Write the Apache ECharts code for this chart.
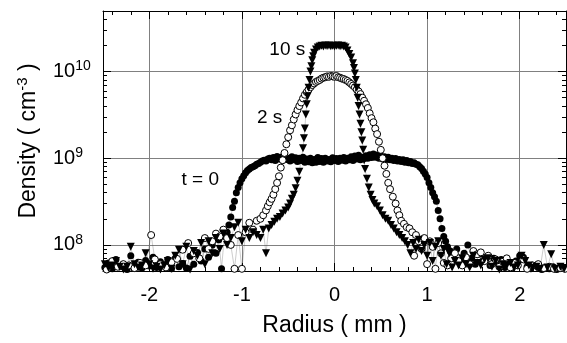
<!DOCTYPE html>
<html><head><meta charset="utf-8">
<script src="https://cdn.jsdelivr.net/npm/echarts@6/dist/echarts.min.js"></script>
<style>html,body{margin:0;padding:0;background:#fff}#c{width:567px;height:343px}</style>
</head><body><div id="c"></div>
<script>
// ---------- data (radius in mm, density in cm^-3) ----------
const t0Radius = [-2.48,-2.44,-2.40,-2.36,-2.32,-2.28,-2.24,-2.20,-2.16,-2.12,-2.08,-2.04,-2.00,-1.96,-1.92,-1.88,-1.84,-1.80,-1.76,-1.72,-1.68,-1.64,-1.60,-1.56,-1.52,-1.48,-1.44,-1.40,-1.36,-1.32,-1.28,-1.25,-1.22,-1.19,-1.16,
 -1.14,-1.12,-1.10,-1.08,-1.06,-1.04,-1.02,-1.00,-0.98,-0.96,-0.94,-0.92,-0.90,-0.88,-0.86,-0.84,-0.82,-0.80,-0.78,-0.76,-0.74,-0.72,-0.70,
 -0.68,-0.66,-0.64,-0.62,-0.60,-0.58,-0.56,-0.54,-0.52,-0.50,-0.48,-0.46,-0.44,-0.42,-0.40,-0.38,-0.36,-0.34,-0.32,-0.30,-0.28,-0.26,-0.24,-0.22,-0.20,-0.18,-0.16,-0.14,-0.12,-0.10,-0.08,-0.06,-0.04,-0.02,
 0.00,0.02,0.04,0.06,0.08,0.10,0.12,0.14,0.16,0.18,0.20,0.22,0.24,0.26,0.28,0.30,0.32,0.34,0.36,0.38,0.40,0.42,0.44,0.46,0.48,0.50,0.52,0.54,0.56,0.58,0.60,0.62,0.64,0.66,0.68,0.70,0.72,0.74,0.76,0.78,0.80,0.82,0.84,0.86,0.88,
 0.90,0.92,0.94,0.96,0.98,1.00,1.02,1.04,1.06,1.08,1.10,1.12,1.14,1.16,1.18,1.20,1.22,1.25,
 1.28,1.32,1.36,1.40,1.44,1.48,1.52,1.56,1.60,1.64,1.68,1.72,1.76,1.80,1.84,1.88,1.92,1.96,2.00,2.04,2.08,2.12,2.16,2.20,2.24,2.28,2.32,2.36,2.40,2.44,2.48];
const t0Density = [5.5e7,6.2e7,5.3e7,6.8e7,5.6e7,6.0e7,5.2e7,7.5e7,5.8e7,6.3e7,5.4e7,6.6e7,5.7e7,7.2e7,5.5e7,6.4e7,5.9e7,6.8e7,5.3e7,7.0e7,5.6e7,6.1e7,5.4e7,7.4e7,6.0e7,8.2e7,6.5e7,9.0e7,7.2e7,1.0e8,8.0e7,1.15e8,5.3e7,1.25e8,1.4e8,
 1.7e8,2.1e8,2.7e8,3.2e8,4.0e8,4.6e8,5.2e8,5.8e8,6.3e8,6.8e8,7.2e8,7.5e8,7.8e8,8.0e8,8.2e8,8.5e8,8.7e8,9.0e8,9.3e8,9.5e8,9.3e8,9.8e8,1.0e9,
 9.6e8,1.02e9,9.4e8,1.05e9,9.8e8,1.03e9,9.5e8,1.06e9,9.7e8,1.0e9,9.3e8,1.04e9,9.6e8,1.01e9,9.2e8,1.0e9,9.4e8,1.03e9,9.0e8,9.8e8,9.1e8,1.0e9,8.9e8,9.7e8,9.0e8,1.02e9,9.2e8,9.9e8,9.0e8,1.0e9,9.3e8,9.7e8,9.1e8,1.01e9,
 9.4e8,9.9e8,9.2e8,1.0e9,9.5e8,1.02e9,9.3e8,1.0e9,9.6e8,1.04e9,9.4e8,1.06e9,9.8e8,1.08e9,9.6e8,1.03e9,9.9e8,1.07e9,1.0e9,1.1e9,1.02e9,1.12e9,1.03e9,1.09e9,1.0e9,1.06e9,9.8e8,1.04e9,9.7e8,1.03e9,9.6e8,1.0e9,9.4e8,9.9e8,9.3e8,9.7e8,9.2e8,9.6e8,9.0e8,9.4e8,8.9e8,9.2e8,8.7e8,8.9e8,8.5e8,
 8.4e8,8.0e8,7.6e8,7.1e8,6.6e8,6.0e8,5.2e8,4.6e8,4.0e8,3.6e8,3.2e8,2.5e8,2.0e8,1.55e8,1.25e8,1.1e8,9.5e7,8.5e7,
 7.5e7,9.0e7,6.5e7,8.0e7,1.0e8,7.0e7,6.0e7,7.8e7,6.5e7,7.2e7,5.8e7,7.0e7,6.2e7,6.8e7,5.5e7,6.0e7,5.4e7,6.5e7,7.5e7,7.2e7,5.6e7,5.3e7,5.8e7,5.5e7,5.2e7,5.4e7,5.3e7,5.6e7,5.2e7,5.5e7,5.3e7];

const s2Radius = [-2.46,-2.40,-2.34,-2.28,-2.22,-2.16,-2.10,-2.04,-1.98,-1.94,-1.88,-1.82,-1.76,-1.70,-1.64,-1.58,-1.52,-1.46,-1.40,-1.36,-1.32,-1.28,-1.24,-1.20,-1.16,-1.12,-1.08,-1.04,-1.00,-0.96,-0.92,-0.88,-0.84,-0.80,-0.77,-0.74,-0.72,-0.70,-0.68,-0.66,-0.64,-0.62,-0.60,-0.58,-0.56,-0.54,-0.52,-0.50,-0.48,-0.46,-0.44,-0.42,-0.40,-0.38,-0.36,-0.34,-0.32,-0.30,-0.28,-0.26,-0.24,-0.22,-0.20,-0.18,-0.16,-0.14,-0.12,-0.10,-0.08,-0.06,-0.04,-0.02,
 0.00,0.02,0.04,0.06,0.08,0.10,0.12,0.14,0.16,0.18,0.20,0.22,0.24,0.26,0.28,0.30,0.32,0.34,0.36,0.38,0.40,0.42,0.44,0.46,0.48,0.50,0.52,0.54,0.56,0.58,0.60,0.63,0.66,0.68,0.70,0.72,0.75,0.78,0.81,0.84,0.86,0.88,0.91,0.94,0.97,1.00,1.03,1.06,1.09,
 1.12,1.15,1.18,1.22,1.26,1.30,1.34,1.38,1.42,1.46,1.50,1.54,1.58,1.62,1.66,1.70,1.74,1.78,1.82,1.86,1.90,1.94,1.98,2.04,2.08,2.14,2.20,2.26,2.32,2.37,2.44,2.49];
const s2Density = [5.2e7,6.5e7,5.6e7,6.0e7,5.8e7,5.4e7,6.2e7,5.8e7,1.3e8,6.8e7,6.0e7,5.5e7,6.3e7,6.9e7,8.8e7,1.05e8,8.0e7,7.0e7,1.2e8,9.0e7,1.1e8,1.35e8,1.25e8,1.5e8,1.2e8,1.0e8,5.3e7,1.3e8,5.3e7,1.4e8,1.8e8,1.5e8,1.9e8,2.0e8,2.2e8,2.5e8,2.8e8,3.1e8,3.4e8,3.8e8,4.4e8,5.2e8,6.2e8,7.8e8,9.5e8,1.15e9,1.45e9,1.75e9,2.1e9,2.4e9,2.8e9,3.2e9,3.6e9,4.0e9,4.4e9,4.9e9,5.4e9,5.8e9,6.2e9,6.6e9,7.0e9,7.3e9,7.6e9,7.8e9,8.0e9,8.3e9,8.5e9,8.6e9,8.8e9,8.7e9,8.9e9,8.8e9,
 8.7e9,8.9e9,8.6e9,8.5e9,8.3e9,8.2e9,8.0e9,7.8e9,7.5e9,7.2e9,6.9e9,6.6e9,6.2e9,5.9e9,5.5e9,5.0e9,4.6e9,4.2e9,3.8e9,3.3e9,2.9e9,2.6e9,2.2e9,1.9e9,1.55e9,1.25e9,1.0e9,8.2e8,6.6e8,5.2e8,4.4e8,3.6e8,3.0e8,2.5e8,2.2e8,1.9e8,1.75e8,1.6e8,1.55e8,1.4e8,7.5e7,1.3e8,1.1e8,9.0e7,1.2e8,6.0e7,1.1e8,9.5e7,5.3e7,
 1.05e8,8.0e7,6.2e7,5.8e7,7.0e7,8.0e7,6.5e7,5.8e7,7.2e7,6.0e7,8.5e7,7.8e7,8.2e7,6.5e7,7.5e7,6.0e7,6.8e7,5.6e7,6.4e7,7.0e7,5.5e7,6.2e7,5.8e7,6.8e7,5.3e7,5.8e7,6.0e7,5.4e7,5.6e7,5.3e7,5.4e7,5.3e7];

const s10Radius = [-2.48,-2.44,-2.40,-2.36,-2.32,-2.28,-2.24,-2.20,-2.16,-2.12,-2.08,-2.04,-2.00,-1.96,-1.92,-1.88,-1.84,-1.80,-1.76,-1.72,-1.68,-1.64,-1.60,-1.56,-1.52,-1.48,-1.44,-1.40,-1.36,-1.32,-1.28,-1.24,-1.20,-1.16,-1.12,-1.08,-1.04,-1.00,-0.96,-0.92,-0.88,-0.84,-0.80,-0.77,-0.74,-0.71,-0.68,-0.65,-0.62,-0.59,-0.56,-0.53,-0.50,-0.48,-0.46,-0.44,-0.42,-0.40,-0.38,-0.36,-0.34,-0.33,-0.32,-0.31,-0.30,-0.29,-0.28,-0.27,-0.26,-0.25,-0.24,-0.23,-0.22,-0.20,-0.18,-0.16,-0.14,-0.12,-0.10,-0.08,-0.06,-0.04,-0.02,
 0.00,0.02,0.04,0.06,0.08,0.10,0.12,0.14,0.16,0.18,0.20,0.21,0.22,0.23,0.24,0.25,0.26,0.27,0.28,0.29,0.30,0.31,0.32,0.33,0.35,0.37,0.39,0.41,0.43,0.46,0.49,0.52,0.55,0.58,0.61,0.64,0.67,0.70,0.73,0.76,0.79,0.82,0.85,0.88,0.91,0.94,0.97,1.00,1.03,1.06,1.09,1.12,1.15,1.18,1.21,1.24,1.27,1.30,1.34,1.38,1.42,1.46,1.50,1.54,1.58,1.62,1.66,1.70,1.74,1.78,1.82,1.86,1.90,1.94,1.98,2.02,2.06,2.10,2.14,2.18,2.22,2.26,2.30,2.34,2.38,2.44,2.48];
const s10Density = [6.0e7,5.4e7,5.8e7,6.5e7,5.6e7,5.2e7,5.6e7,9.5e7,6.0e7,5.5e7,5.8e7,8.0e7,6.0e7,5.3e7,5.6e7,5.2e7,5.8e7,6.5e7,5.3e7,7.5e7,8.8e7,6.0e7,9.5e7,5.2e7,8.5e7,7.5e7,1.05e8,6.0e7,1.1e8,8.0e7,1.2e8,9.0e7,1.35e8,1.0e8,1.2e8,1.6e8,1.8e8,1.1e8,1.5e8,1.2e8,1.4e8,1.3e8,1.2e8,1.5e8,8.0e7,1.55e8,1.7e8,1.85e8,2.0e8,2.1e8,2.3e8,2.5e8,2.7e8,3.0e8,3.4e8,3.8e8,4.5e8,5.5e8,7.0e8,9.5e8,1.3e9,1.7e9,2.2e9,3.2e9,4.2e9,5.2e9,6.5e9,8.0e9,1.0e10,1.15e10,1.35e10,1.5e10,1.65e10,1.8e10,1.9e10,1.95e10,1.98e10,1.95e10,2.0e10,1.97e10,2.0e10,1.96e10,1.99e10,
 1.95e10,1.98e10,2.0e10,1.96e10,1.99e10,1.95e10,1.9e10,1.75e10,1.6e10,1.45e10,1.25e10,1.1e10,9.5e9,8.0e9,6.5e9,5.0e9,4.0e9,3.2e9,2.5e9,2.0e9,1.6e9,1.25e9,9.5e8,7.5e8,5.8e8,4.6e8,3.8e8,3.3e8,3.0e8,2.8e8,2.5e8,2.2e8,2.0e8,1.9e8,1.7e8,1.55e8,1.4e8,1.3e8,1.2e8,1.1e8,1.0e8,8.0e7,1.05e8,9.0e7,1.15e8,8.5e7,1.0e8,7.5e7,1.05e8,6.5e7,9.5e7,1.1e8,7.5e7,9.0e7,6.0e7,8.0e7,5.5e7,6.5e7,5.8e7,7.0e7,6.0e7,5.5e7,7.5e7,6.2e7,5.8e7,6.8e7,7.0e7,5.6e7,6.5e7,5.2e7,6.0e7,5.8e7,6.2e7,5.5e7,5.8e7,7.5e7,6.5e7,5.8e7,5.4e7,5.6e7,5.3e7,1.0e8,5.5e7,7.8e7,5.3e7,5.6e7,5.3e7];

// annotations
const noteText = ['10 s', '2 s', 't = 0'];
const noteRadius = [-0.51, -0.70, -1.45];
const noteDensity = [1.8e10, 2.9e9, 5.6e8];

// axis ticks
const xMajorTicks = [-2, -1, 0, 1, 2];
const yMajorTicks = [1e8, 1e9, 1e10];
const yMinorTicks = [6e7,7e7,8e7,9e7,2e8,3e8,4e8,5e8,6e8,7e8,8e8,9e8,2e9,3e9,4e9,5e9,6e9,7e9,8e9,9e9,2e10,3e10,4e10];

const pairs = (xs, ys) => xs.map((x, i) => [x, ys[i]]);
const FONT = 'Liberation Sans, Arial, sans-serif';
const black = '#000';

const chart = echarts.init(document.getElementById('c'), null, {renderer: 'canvas'});

const baseX = {type: 'value', min: -2.5, max: 2.5};
const baseY = {type: 'log', logBase: 10, min: 5e7, max: 5e10};
const tickStyle = {color: black, width: 1};

chart.setOption({
  animation: false,
  backgroundColor: '#fff',
  textStyle: {fontFamily: FONT},
  grid: {left: 103, right: 1, top: 11, bottom: 72, containLabel: false},
  xAxis: [
    Object.assign({}, baseX, {
      position: 'bottom',
      axisLine: {show: true, onZero: false, lineStyle: tickStyle},
      axisTick: {show: true, inside: true, length: 8, customValues: xMajorTicks, lineStyle: tickStyle},
      minorTick: {show: true, splitNumber: 5, length: 4, lineStyle: tickStyle},
      axisLabel: {customValues: xMajorTicks, fontSize: 20, color: black, margin: 14, fontFamily: FONT},
      splitLine: {show: true, lineStyle: {color: '#808080', width: 1}},
      name: 'Radius ( mm )', nameLocation: 'middle', nameGap: 43,
      nameTextStyle: {fontSize: 23, color: black, fontFamily: FONT}
    }),
    Object.assign({}, baseX, {
      position: 'top',
      axisLine: {show: true, onZero: false, lineStyle: tickStyle},
      axisTick: {show: true, inside: true, length: 8, customValues: xMajorTicks, lineStyle: tickStyle},
      minorTick: {show: true, splitNumber: 5, length: 4, lineStyle: tickStyle},
      axisLabel: {show: false},
      splitLine: {show: false}
    })
  ],
  yAxis: [
    Object.assign({}, baseY, {
      position: 'left',
      axisLine: {show: true, onZero: false, lineStyle: tickStyle},
      axisTick: {show: true, inside: true, length: 8, customValues: yMajorTicks, lineStyle: tickStyle},
      axisLabel: {
        customValues: yMajorTicks, align: 'left', margin: 50,
        formatter: v => '{b|10}{s|' + Math.round(Math.log10(v)) + '}',
        rich: {
          b: {fontSize: 20, color: black, fontFamily: FONT, lineHeight: 24},
          s: {fontSize: 14, color: black, fontFamily: FONT, lineHeight: 14, verticalAlign: 'top'}
        }
      },
      splitLine: {show: true, lineStyle: {color: '#808080', width: 1}},
      name: '{n|Density ( cm}{p|-3}{n| )}', nameLocation: 'middle', nameGap: 60, nameRotate: 90,
      nameTextStyle: {
        rich: {
          n: {fontSize: 23, color: black, fontFamily: FONT, lineHeight: 28},
          p: {fontSize: 15, color: black, fontFamily: FONT, lineHeight: 15, verticalAlign: 'top'}
        }
      }
    }),
    Object.assign({}, baseY, {
      position: 'left',
      axisLine: {show: false, onZero: false},
      axisTick: {show: true, inside: true, length: 4, customValues: yMinorTicks, lineStyle: tickStyle},
      axisLabel: {show: false},
      splitLine: {show: false}
    }),
    Object.assign({}, baseY, {
      position: 'right',
      axisLine: {show: true, onZero: false, lineStyle: tickStyle},
      axisTick: {show: true, inside: true, length: 8, customValues: yMajorTicks, lineStyle: tickStyle},
      axisLabel: {show: false},
      splitLine: {show: false}
    }),
    Object.assign({}, baseY, {
      position: 'right',
      axisLine: {show: false, onZero: false},
      axisTick: {show: true, inside: true, length: 4, customValues: yMinorTicks, lineStyle: tickStyle},
      axisLabel: {show: false},
      splitLine: {show: false}
    })
  ],
  series: [
    {
      name: 't = 0', type: 'line', data: pairs(t0Radius, t0Density),
      symbol: 'circle', symbolSize: 7, showSymbol: true,
      itemStyle: {color: black},
      lineStyle: {color: '#333', width: 0.5, type: 'dotted'}
    },
    {
      name: '2 s', type: 'line', data: pairs(s2Radius, s2Density),
      symbol: 'circle', symbolSize: 7, showSymbol: true,
      itemStyle: {color: '#fff', borderColor: black, borderWidth: 1},
      lineStyle: {color: '#333', width: 0.5, type: 'dotted'}
    },
    {
      name: '10 s', type: 'line', data: pairs(s10Radius, s10Density),
      symbol: 'triangle', symbolRotate: 180, symbolSize: 8, showSymbol: true,
      itemStyle: {color: black},
      lineStyle: {color: '#333', width: 0.5, type: 'dotted'}
    },
    {
      name: 'notes', type: 'scatter', symbolSize: 0,
      itemStyle: {color: black, opacity: 1},
      data: noteText.map((t, i) => ({name: t, value: [noteRadius[i], noteDensity[i]]})),
      label: {show: true, position: 'inside', formatter: p => p.name, fontSize: 19, color: black, opacity: 1,
              textBorderWidth: 0, textShadowBlur: 0, fontFamily: FONT},
      silent: true
    }
  ]
});
</script></body></html>
